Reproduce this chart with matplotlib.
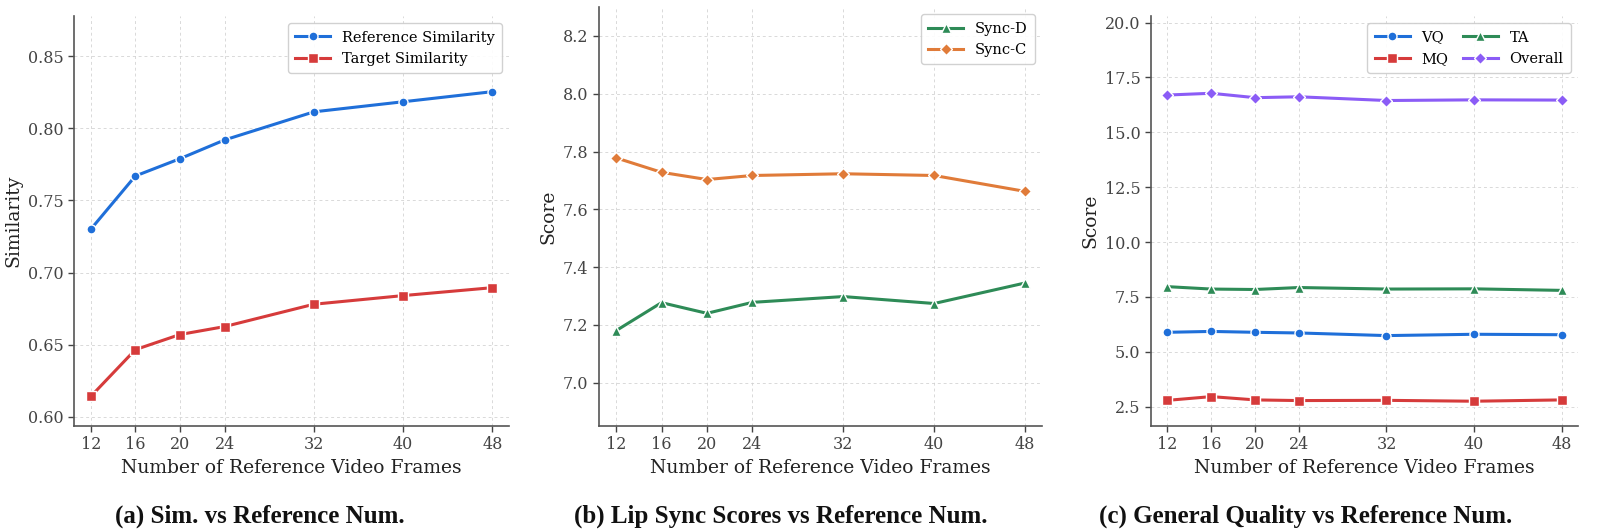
import matplotlib
matplotlib.use("Agg")
import matplotlib.pyplot as plt

plt.rcParams['font.family'] = ['DejaVu Serif']

frames = [12, 16, 20, 24, 32, 40, 48]

# (a) similarity
ref_sim = [0.730, 0.767, 0.779, 0.792, 0.8115, 0.8185, 0.8255]
tgt_sim = [0.614, 0.6465, 0.657, 0.6625, 0.678, 0.684, 0.6895]

# (b) lip sync
sync_d = [7.180, 7.277, 7.240, 7.278, 7.298, 7.274, 7.345]
sync_c = [7.778, 7.728, 7.703, 7.717, 7.723, 7.717, 7.662]

# (c) general quality
vq = [5.89, 5.93, 5.89, 5.86, 5.74, 5.80, 5.78]
mq = [2.79, 2.96, 2.81, 2.78, 2.79, 2.75, 2.81]
ta = [7.97, 7.86, 7.84, 7.93, 7.86, 7.87, 7.80]
overall = [16.70, 16.78, 16.58, 16.62, 16.45, 16.48, 16.47]

captions = ["(a) Sim. vs Reference Num.",
            "(b) Lip Sync Scores vs Reference Num.",
            "(c) General Quality vs Reference Num."]

BLUE = "#1f6fd9"
RED = "#d63b3b"
GREEN = "#2e8b57"
ORANGE = "#e07b39"
PURPLE = "#8b5cf6"

fig = plt.figure(figsize=(16, 5.32), dpi=100)
ax_a = fig.add_axes([0.04625, 0.1992, 0.2719, 0.7707])
ax_b = fig.add_axes([0.3744, 0.1992, 0.2769, 0.7876])
ax_c = fig.add_axes([0.7194, 0.1992, 0.2669, 0.7707])


def style(ax, ylabel):
    ax.set_xticks(frames)
    ax.set_xlim(10.5, 49.5)
    ax.grid(True, linestyle=(0, (3, 3)), color="#d0d0d0", linewidth=0.7, alpha=0.8)
    ax.set_axisbelow(True)
    for s in ["top", "right"]:
        ax.spines[s].set_visible(False)
    for s in ["left", "bottom"]:
        ax.spines[s].set_color("#555555")
        ax.spines[s].set_linewidth(1.2)
    ax.tick_params(labelsize=11.5, colors="#444444", length=4, width=1)
    ax.set_xlabel("Number of Reference Video Frames", fontsize=13.5, color="#222222")
    ax.set_ylabel(ylabel, fontsize=13.5, color="#222222")


def line(ax, y, color, marker, label, ms=6.5):
    ax.plot(frames, y, color=color, marker=marker, markersize=ms, linewidth=2.2,
            markeredgecolor="white", markeredgewidth=1, label=label)


def legend(ax, **kw):
    ax.legend(loc="upper right", fontsize=10.5, framealpha=0.9, edgecolor="#cccccc",
              handlelength=2.4, borderpad=0.5, **kw)


line(ax_a, ref_sim, BLUE, "o", "Reference Similarity")
line(ax_a, tgt_sim, RED, "s", "Target Similarity")
style(ax_a, "Similarity")
ax_a.set_ylim(0.5935, 0.878)
ax_a.set_yticks([0.60, 0.65, 0.70, 0.75, 0.80, 0.85])
legend(ax_a)

line(ax_b, sync_d, GREEN, "^", "Sync-D")
line(ax_b, sync_c, ORANGE, "D", "Sync-C", ms=6)
style(ax_b, "Score")
ax_b.set_ylim(6.85, 8.30)
ax_b.set_yticks([7.0, 7.2, 7.4, 7.6, 7.8, 8.0, 8.2])
legend(ax_b)

line(ax_c, vq, BLUE, "o", "VQ")
line(ax_c, mq, RED, "s", "MQ")
line(ax_c, ta, GREEN, "^", "TA")
line(ax_c, overall, PURPLE, "D", "Overall", ms=6)
style(ax_c, "Score")
ax_c.set_ylim(1.62, 20.3)
ax_c.set_yticks([2.5, 5.0, 7.5, 10.0, 12.5, 15.0, 17.5, 20.0])
legend(ax_c, ncol=2, columnspacing=1.0)

for x, cap in zip([0.1625, 0.488, 0.816], captions):
    fig.text(x, 0.03, cap, ha="center", va="center", fontsize=18,
             fontweight="bold", family="Liberation Serif", color="#111111")

fig.savefig("out.png", dpi=100)
